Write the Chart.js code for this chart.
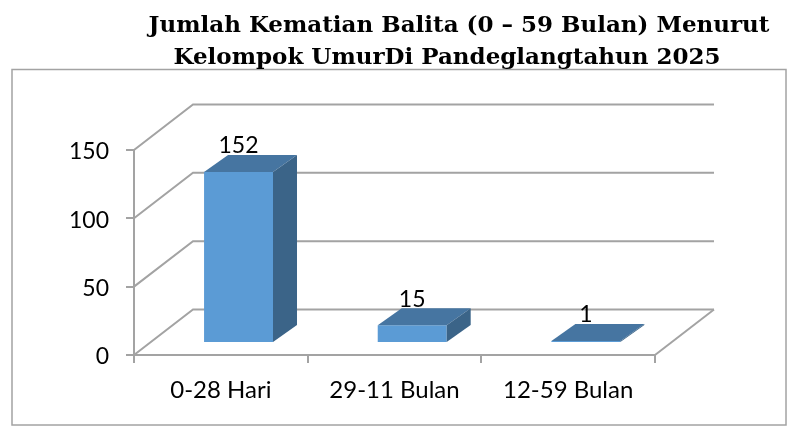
<!DOCTYPE html>
<html>
<head>
<meta charset="utf-8">
<style>
  html, body { margin: 0; padding: 0; background: #fff; }
  #wrap { width: 788px; height: 426px; }
</style>
<script src="https://cdn.jsdelivr.net/npm/chart.js@4"></script>
</head>
<body>
<div id="wrap"><canvas id="chart" width="788" height="426"></canvas></div>
<script>
const categories = ["0-28 Hari", "29-11 Bulan", "12-59 Bulan"];
const values = [152, 15, 1];
// trailing spaces: the second line sits a little left of the first in the source
const titleLines = [
  "Jumlah Kematian Balita (0 – 59 Bulan) Menurut",
  "Kelompok UmurDi Pandeglangtahun 2025   ",
];

const lineColor = "#a3a3a3";
const faceColor = "#5b9bd5";
const topColor = "#4675a1";
const sideColor = "#3b6488";

// Fake 3D: how far the walls and the bars are pushed back
const wall = { dx: 59, dy: -45.5 };
const barShift = { dx: 17.7, dy: -13 };
const barDepth = { dx: 24, dy: -17 };

const fake3d = {
  id: "fake3d",
  beforeDraw(chart) {
    const { ctx } = chart;
    ctx.save();
    ctx.strokeStyle = lineColor;
    ctx.lineWidth = 1.5;
    ctx.strokeRect(12, 69.5, 774, 355.5);
    ctx.restore();
  },
  beforeDatasetsDraw(chart) {
    const { ctx, chartArea, scales } = chart;
    const left = chartArea.left;
    const right = chartArea.right;
    ctx.save();
    ctx.strokeStyle = lineColor;
    ctx.lineWidth = 2;
    scales.y.ticks.forEach((tick) => {
      const y = scales.y.getPixelForValue(tick.value);
      ctx.beginPath();
      ctx.moveTo(left, y);
      ctx.lineTo(left + wall.dx, y + wall.dy);
      ctx.lineTo(right + wall.dx, y + wall.dy);
      ctx.stroke();
    });
    const y0 = scales.y.getPixelForValue(0);
    ctx.beginPath();
    ctx.moveTo(right, y0);
    ctx.lineTo(right + wall.dx, y0 + wall.dy);
    ctx.stroke();
    ctx.restore();
  },
  beforeDatasetDraw(chart) {
    chart.ctx.save();
    chart.ctx.translate(barShift.dx, barShift.dy);
  },
  afterDatasetDraw(chart) {
    const { ctx } = chart;
    chart.getDatasetMeta(0).data.forEach((bar) => {
      const l = bar.x - bar.width / 2;
      const r = bar.x + bar.width / 2;
      ctx.fillStyle = topColor;
      ctx.beginPath();
      ctx.moveTo(l, bar.y);
      ctx.lineTo(l + barDepth.dx, bar.y + barDepth.dy);
      ctx.lineTo(r + barDepth.dx, bar.y + barDepth.dy);
      ctx.lineTo(r, bar.y);
      ctx.closePath();
      ctx.fill();
      ctx.fillStyle = sideColor;
      ctx.beginPath();
      ctx.moveTo(r, bar.y);
      ctx.lineTo(r + barDepth.dx, bar.y + barDepth.dy);
      ctx.lineTo(r + barDepth.dx, bar.base + barDepth.dy);
      ctx.lineTo(r, bar.base);
      ctx.closePath();
      ctx.fill();
    });
    ctx.restore();
  },
  afterDraw(chart) {
    const { ctx } = chart;
    ctx.save();
    ctx.fillStyle = "#000";
    ctx.font = "23px Lato";
    ctx.textAlign = "center";
    ctx.textBaseline = "middle";
    chart.getDatasetMeta(0).data.forEach((bar, i) => {
      ctx.fillText(values[i], bar.x + barShift.dx, bar.y + barShift.dy - 26);
    });
    ctx.restore();
  },
  afterLayout(chart) {
    // the title sits centred over the plot, not over the page
    chart.titleBlock.left = 130;
    chart.titleBlock.right = 788;
  },
};

new Chart(document.getElementById("chart"), {
  type: "bar",
  data: {
    labels: categories,
    datasets: [
      {
        data: values,
        yAxisID: "yBars",
        backgroundColor: faceColor,
        barPercentage: 0.397,
        categoryPercentage: 1,
      },
    ],
  },
  options: {
    responsive: false,
    animation: false,
    layout: { padding: { left: 0, right: 133, top: 0, bottom: 0 } },
    plugins: {
      legend: { display: false },
      tooltip: { enabled: false },
      title: {
        display: true,
        text: titleLines,
        color: "#000",
        font: { family: "'DejaVu Serif'", size: 23, weight: "bold", lineHeight: 1.39 },
        padding: { top: 10, bottom: 76 },
      },
    },
    scales: {
      x: {
        grid: { offset: true, drawOnChartArea: false, color: lineColor, lineWidth: 2, tickLength: 8 },
        border: { color: lineColor, width: 2 },
        ticks: { color: "#000", font: { family: "Lato", size: 24 }, padding: 13, maxRotation: 0 },
        afterFit(scale) { scale.height = 71; },
      },
      y: {
        min: 0,
        max: 150,
        grid: { drawOnChartArea: false, color: lineColor, lineWidth: 2, tickLength: 8 },
        border: { color: lineColor, width: 2 },
        ticks: { stepSize: 50, color: "#000", font: { family: "Lato", size: 23 }, padding: 17, labelOffset: 2 },
        afterFit(scale) { scale.width = 134; },
      },
      // the bars in the source do not follow the printed axis, 152 stands near 125
      yBars: { display: false, min: 0, max: 183.3 },
    },
  },
  plugins: [fake3d],
});
</script>
</body>
</html>
